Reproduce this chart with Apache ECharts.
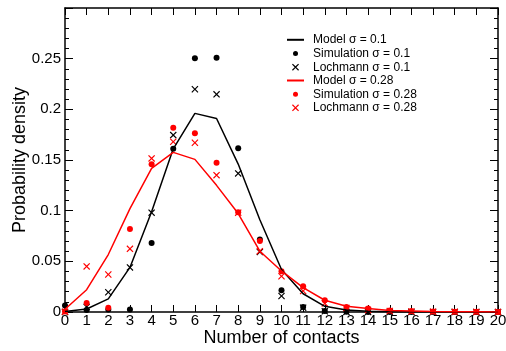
<!DOCTYPE html>
<html><head><meta charset="utf-8">
<script src="https://cdn.jsdelivr.net/npm/echarts@6/dist/echarts.min.js"></script>
<style>html,body{margin:0;padding:0;background:#fff}#c{width:506px;height:351px}</style>
</head><body><div id="c"></div>
<script>
const contacts = [0,1,2,3,4,5,6,7,8,9,10,11,12,13,14,15,16,17,18,19,20];
const modelA = [0.0005,0.003,0.013,0.044,0.099,0.161,0.196,0.191,0.146,0.091,0.042,0.018,0.0056,0.002,0.0008,0.0003,0.0001,0,0,0,0];
const simA   = [0.0065,0.002,0.0025,0.0024,0.068,0.161,0.2504,0.251,0.1615,0.0715,0.0214,0.005,0.001,0.0003,0,0,0,0,0,0,0];
const lochA  = [0,0.005,0.0195,0.044,0.098,0.1746,0.2198,0.2148,0.1368,0.0593,0.0158,0.0043,0.0007,0.0001,0,0,0,0,0,0,0];
const modelB = [0.0027,0.022,0.0567,0.102,0.1417,0.1575,0.1506,0.125,0.0972,0.060,0.0405,0.024,0.0116,0.0056,0.0035,0.0015,0.001,0.0005,0.0003,0.0002,0.0001];
const simB   = [0.0005,0.009,0.0043,0.082,0.1457,0.1818,0.1763,0.1473,0.0985,0.070,0.0402,0.0254,0.0116,0.005,0.0034,0.0015,0.001,0.0005,0.0003,0.0002,0.0001];
const lochB  = [0.0003,0.045,0.037,0.0623,0.1516,0.168,0.167,0.135,0.098,0.060,0.0353,0.0207,0.0085,0.004,0.002,0.001,0.0005,0.0003,0.0002,0.0001,0];
const names = ['Model σ = 0.1','Simulation σ = 0.1','Lochmann σ = 0.1','Model σ = 0.28','Simulation σ = 0.28','Lochmann σ = 0.28'];

const pts = arr => contacts.map((c,i)=>[c,arr[i]]);
const FONT = "'Liberation Sans', Arial, sans-serif";
const CROSS = 'path://M0,1.2L1.2,0L5,3.8L8.8,0L10,1.2L6.2,5L10,8.8L8.8,10L5,6.2L1.2,10L0,8.8L3.8,5Z';
const BLK = '#000000', RED = '#ff0000';

const lineSeries = (name, data, color) => ({
  name, type:'line', data: pts(data), symbol:'none', showSymbol:false,
  lineStyle:{color, width:1.5}, itemStyle:{color}, animation:false
});
const dotSeries = (name, data, color, symbol, size) => ({
  name, type:'scatter', data: pts(data), symbol, symbolSize:size, clip:false,
  itemStyle:{color, opacity:1}, animation:false
});

const legendTops = [33.8,47.5,61.2,74.5,88.2,101.8];
const legendH = [2,5,7,2,5,7];
const legendLeft = [287,293,292,287,293,292];
const legendIcon = ['rect','circle',CROSS,'rect','circle',CROSS];
const legends = names.map((n,i)=>({
  data:[{name:n, icon:legendIcon[i]}], orient:'vertical', left:legendLeft[i], top:legendTops[i], padding:0,
  itemWidth:17, itemHeight:legendH[i], selectedMode:false,
  textStyle:{fontSize:12, color:'#000', fontFamily:FONT, padding:[0,0,0,4]}
}));

const axisLine = {show:true, onZero:false, lineStyle:{color:'#000', width:1.5}};
const xBase = {type:'value', min:0, max:20, interval:1, splitLine:{show:false},
  axisLine, axisTick:{show:true, inside:true, length:7, lineStyle:{color:'#000', width:1}}};
const yBase = {type:'value', min:0, max:0.3, interval:0.05, splitLine:{show:false},
  axisLine, axisTick:{show:true, inside:true, length:8, lineStyle:{color:'#000', width:1}},
  minorTick:{show:true, splitNumber:5, length:4, lineStyle:{color:'#000', width:1}}};

const chart = echarts.init(document.getElementById('c'), null, {renderer:'canvas'});
chart.setOption({
  backgroundColor:'#fff',
  animation:false,
  textStyle:{fontFamily:FONT},
  grid:{left:65, right:8, top:8, bottom:39, containLabel:false, outerBoundsMode:'none'},
  legend: legends,
  xAxis:[
    Object.assign({}, xBase, {position:'bottom',
      axisLabel:{show:true, fontSize:15, color:'#000', margin:1, fontFamily:FONT},
      name:'Number of contacts', nameLocation:'middle', nameGap:17, nameMoveOverlap:false,
      nameTextStyle:{fontSize:18, color:'#000', fontFamily:FONT}}),
    Object.assign({}, xBase, {position:'top', axisLabel:{show:false}})
  ],
  yAxis:[
    Object.assign({}, yBase, {position:'left',
      axisLabel:{show:true, fontSize:15, color:'#000', margin:4, fontFamily:FONT, showMaxLabel:false},
      name:'Probability density', nameLocation:'middle', nameGap:36, nameMoveOverlap:false,
      nameTextStyle:{fontSize:18, color:'#000', fontFamily:FONT}}),
    Object.assign({}, yBase, {position:'right', axisLabel:{show:false}})
  ],
  series:[
    lineSeries(names[0], modelA, BLK),
    dotSeries(names[1], simA, BLK, 'circle', 6),
    dotSeries(names[2], lochA, BLK, CROSS, 7),
    lineSeries(names[3], modelB, RED),
    dotSeries(names[4], simB, RED, 'circle', 6),
    dotSeries(names[5], lochB, RED, CROSS, 7)
  ]
});
</script></body></html>
